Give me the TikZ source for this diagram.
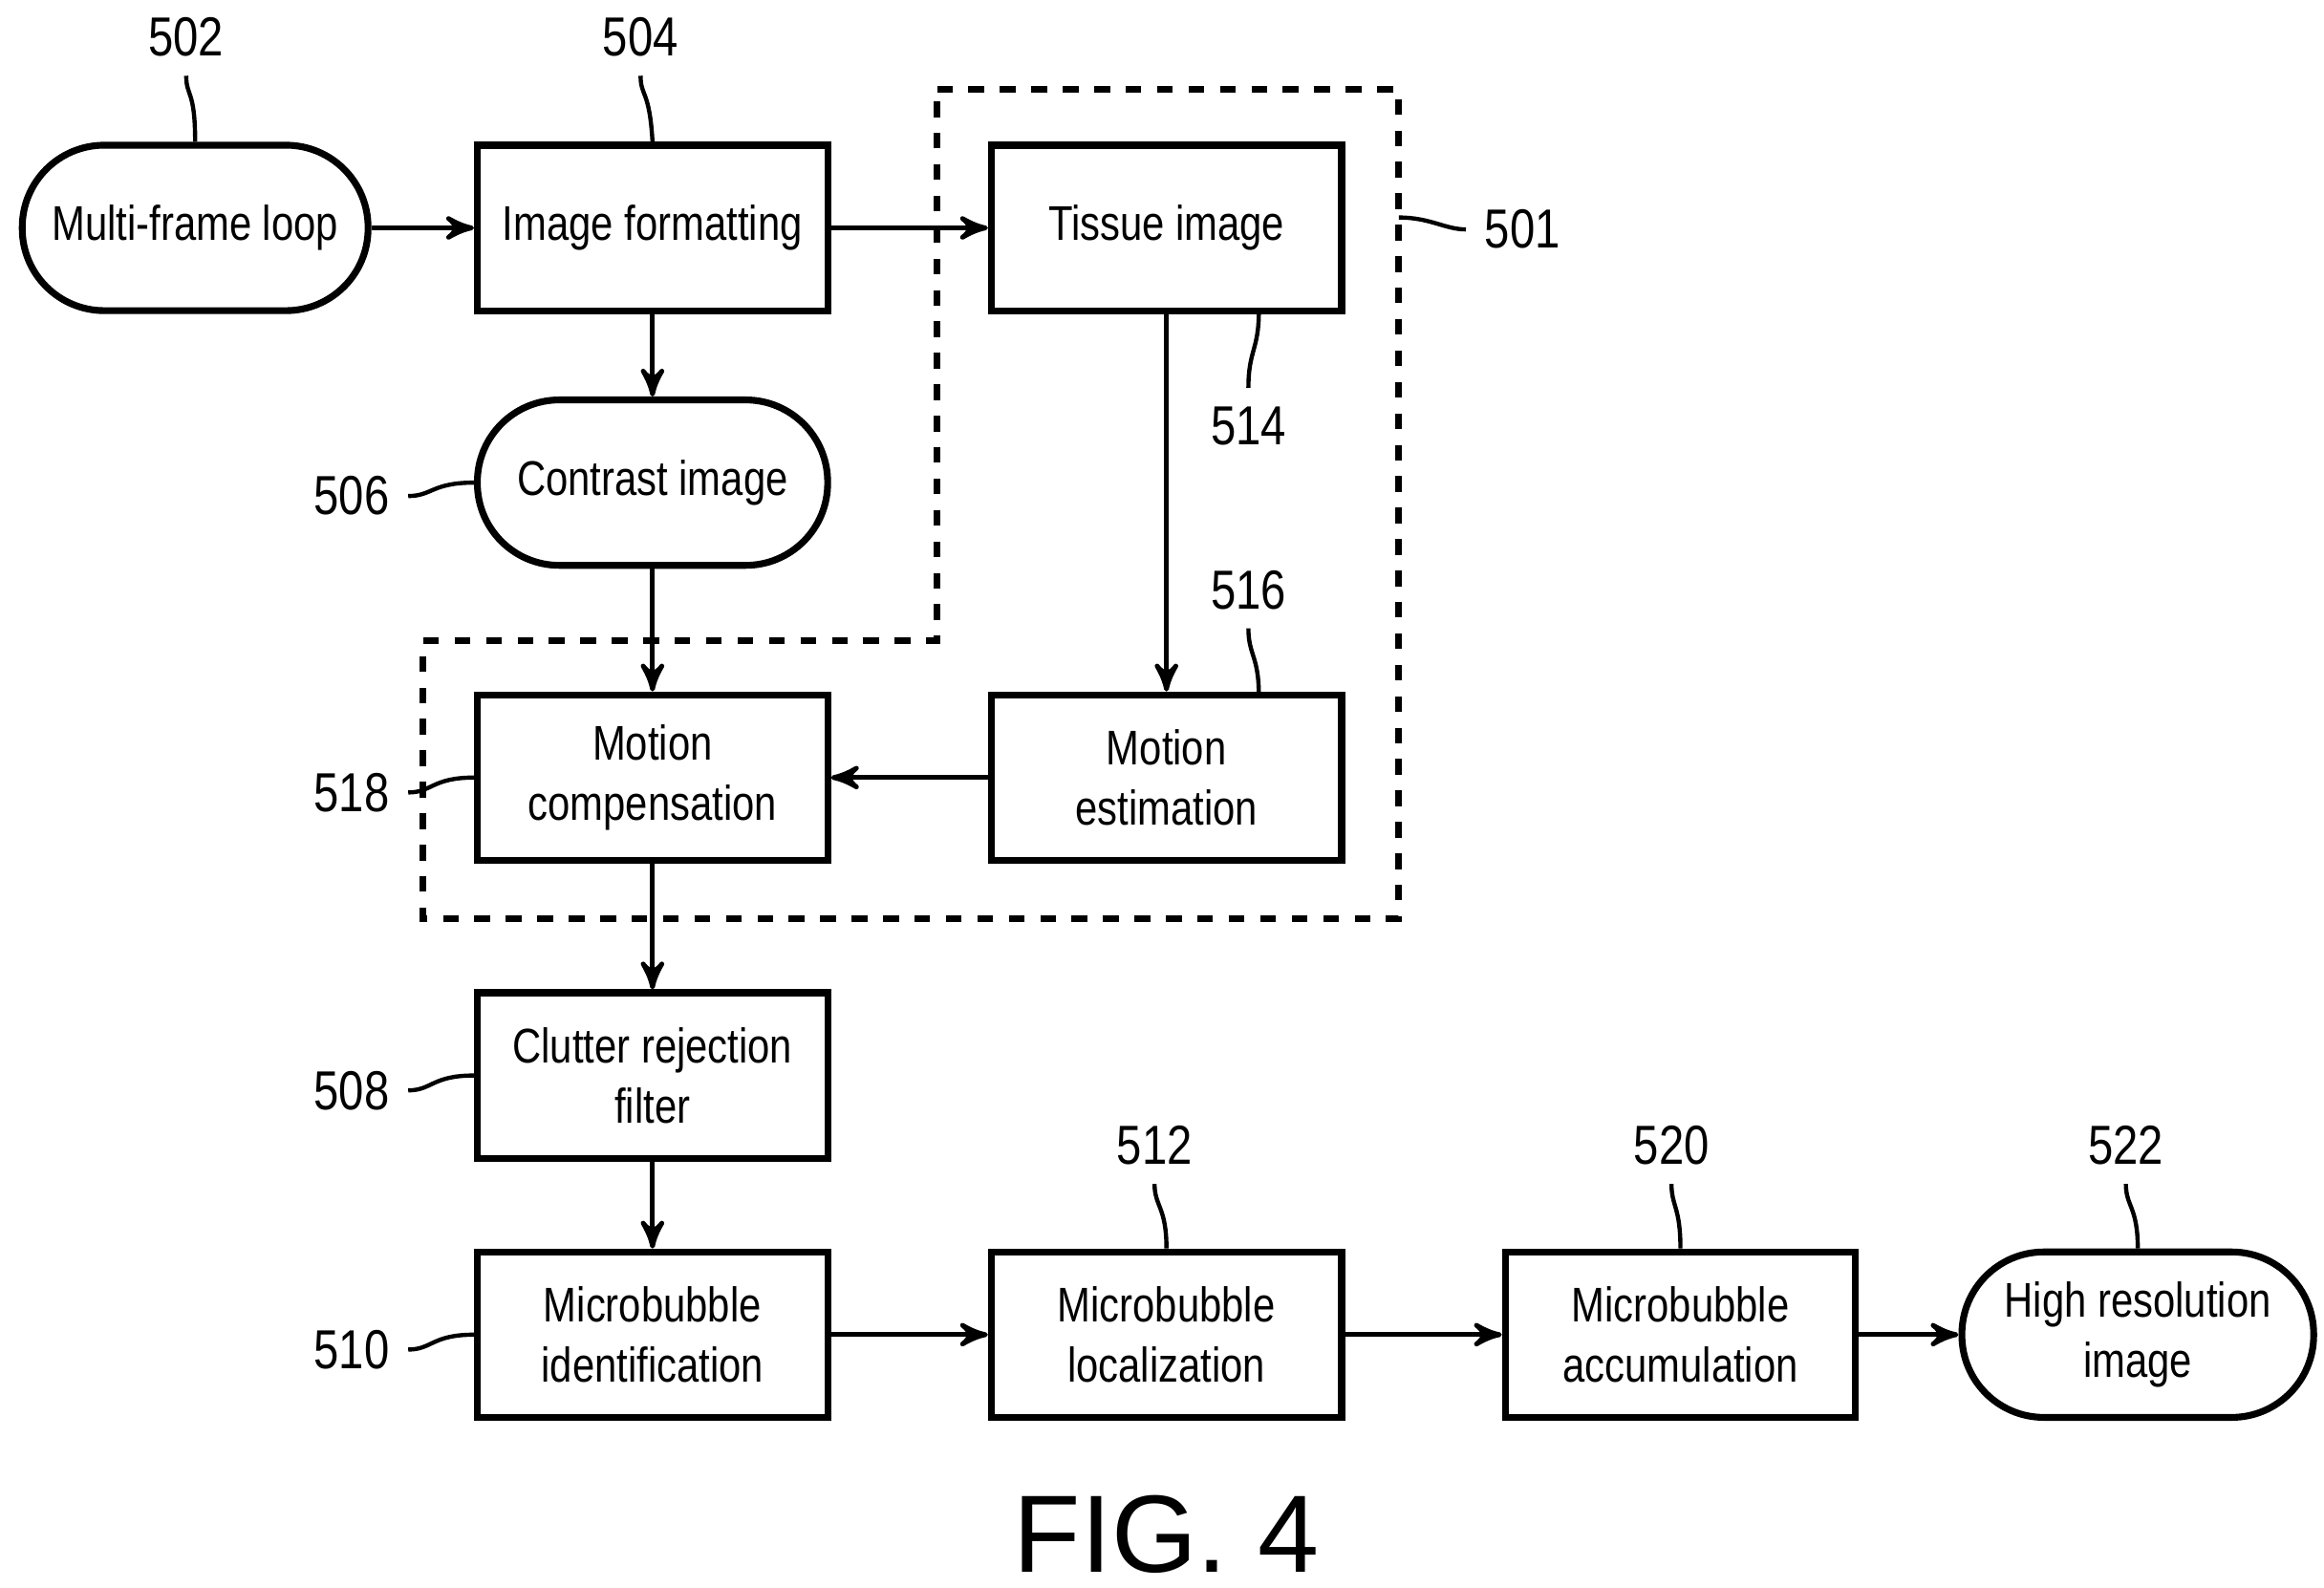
\documentclass[tikz,border=0pt]{standalone}
\usepackage{fontspec}
\setmainfont{Liberation Sans}[FakeStretch=0.82]
\usetikzlibrary{positioning}
\usetikzlibrary{arrows}
\usetikzlibrary{calc}
\tikzset{
b/.style={
  rectangle,
  inner sep=0pt,
  minimum width=2.35cm,
  minimum height=1.11cm,
  align=center,
  draw=black,
  line width=1.3pt,
  font=\fontsize{9.3}{11.5}\selectfont
  },
r/.style={b,rounded corners=0.55cm},
num/.style={font=\fontsize{10.5}{12}\selectfont},
lead/.style={-,line width=0.8pt}
}
\begin{document}
\begin{tikzpicture}[->,>=stealth',semithick,x=0.01cm,y=-0.01cm]
        \useasboundingbox (0,0) rectangle (1560,1066);
        \node[r,minimum width=2.32cm] at (131,153) (loop) {Multi-frame loop};
        \node[b] at (438,153) (fmt) {Image formatting};
        \node[b] at (783,153) (tis) {Tissue image};
        \node[r] at (438,324) (con) {Contrast image};
        \node[b] at (438,522) (comp) {Motion\\compensation};
        \node[b] at (783,522) (est) {Motion\\estimation};
        \node[b] at (438,722) (clut) {Clutter rejection\\filter};
        \node[b] at (438,896) (iden) {Microbubble\\identification};
        \node[b] at (783,896) (loc) {Microbubble\\localization};
        \node[b] at (1128,896) (acc) {Microbubble\\accumulation};
        \node[r,minimum width=2.36cm] at (1435,896) (high) {High resolution\\image};
        % dashed region 501
        \draw[-,dashed,line width=1.3pt] (629,60) -- (939,60) -- (939,617) -- (284,617)
          -- (284,430) -- (629,430) -- cycle;
        \path[->,line width=0.9pt]
        (loop) edge (fmt)
        (fmt) edge (tis)
        (fmt) edge (con)
        (con) edge (comp)
        (tis) edge (est)
        (est) edge (comp)
        (comp) edge (clut)
        (clut) edge (iden)
        (iden) edge (loc)
        (loc) edge (acc)
        (acc) edge (high)
        ;
        % reference numerals
        \node[num] at (125,25) (n502) {502};
        \node[num] at (430,25) (n504) {504};
        \node[num] at (1022,154) (n501) {501};
        \node[num] at (838,286) (n514) {514};
        \node[num] at (838,396) (n516) {516};
        \node[num] at (236,333) (n506) {506};
        \node[num] at (236,532) (n518) {518};
        \node[num] at (236,732) (n508) {508};
        \node[num] at (236,906) (n510) {510};
        \node[num] at (775,769) (n512) {512};
        \node[num] at (1122,769) (n520) {520};
        \node[num] at (1427,769) (n522) {522};
        \draw[lead] (n502.south) .. controls (125,65) and (131,60) .. (loop.north);
        \draw[lead] (n504.south) .. controls (430,65) and (436,60) .. (fmt.north);
        \draw[lead] (n501.west) .. controls (970,154) and (960,146) .. (939,146);
        \draw[lead] (n514.north) .. controls (838,235) and (845,235) .. (845,209);
        \draw[lead] (n516.south) .. controls (838,440) and (845,440) .. (845,467);
        \draw[lead] (n506.east) .. controls (290,333) and (290,324) .. (con.west);
        \draw[lead] (n518.east) .. controls (290,532) and (290,522) .. (comp.west);
        \draw[lead] (n508.east) .. controls (290,732) and (290,722) .. (clut.west);
        \draw[lead] (n510.east) .. controls (290,906) and (290,896) .. (iden.west);
        \draw[lead] (n512.south) .. controls (775,810) and (783,810) .. (loc.north);
        \draw[lead] (n520.south) .. controls (1122,810) and (1128,810) .. (acc.north);
        \draw[lead] (n522.south) .. controls (1427,810) and (1435,810) .. (high.north);
        \node[font=\fontsize{21}{23}\selectfont\addfontfeature{FakeStretch=1.0}] at (783,1030) (fig) {FIG. 4};
\end{tikzpicture}
\end{document}
